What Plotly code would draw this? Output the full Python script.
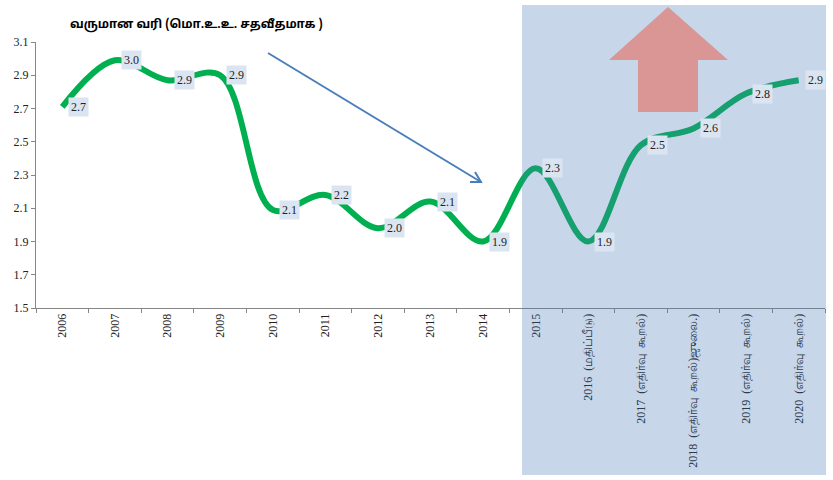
import plotly.graph_objects as go

sp = "\u00a0\u00a0"
years = ["2006", "2007", "2008", "2009", "2010", "2011", "2012", "2013", "2014", "2015",
         f"2016{sp}(மதிப்பீடு)", f"2017{sp}(எதிர்வு{sp}கூறல்)", f"2018{sp}(எதிர்வு{sp}கூறல்)ஜுலை.)",
         f"2019{sp}(எதிர்வு{sp}கூறல்)", f"2020{sp}(எதிர்வு{sp}கூறல்)"]
tax_pct = [2.71, 2.99, 2.87, 2.90, 2.09, 2.18, 1.98, 2.14, 1.90, 2.34, 1.90, 2.48, 2.58, 2.79, 2.87]
label_txt = ["2.7", "3.0", "2.9", "2.9", "2.1", "2.2", "2.0", "2.1", "1.9", "2.3", "1.9", "2.5", "2.6", "2.8", "2.9"]
y_ticks = [1.5, 1.7, 1.9, 2.1, 2.3, 2.5, 2.7, 2.9, 3.1]

W, H = 833, 480
L, R, T, B = 36, 8, 42, 172
pw, ph = W - L - R, H - T - B


def pp(x, y):
    # pixel -> paper coordinates
    return (x - L) / pw, (H - B - y) / ph


def path(points):
    s = ""
    for i, (x, y) in enumerate(points):
        a, b = pp(x, y)
        s += ("M" if i == 0 else "L") + f"{a:.4f},{b:.4f} "
    return s + "Z"


fig = go.Figure()
fig.add_trace(go.Scatter(
    x=years, y=tax_pct, mode="lines",
    line=dict(color="#00b050", width=6, shape="spline", smoothing=1.0),
    hoverinfo="x+y", showlegend=False,
))

serif = "Liberation Serif, Times New Roman, serif"
for i, (y, t) in enumerate(zip(tax_pct, label_txt)):
    fig.add_annotation(x=i, y=y, text=t, showarrow=False, xanchor="left", xshift=6,
                       bgcolor="#dbe5f1", font=dict(family=serif, size=12, color="#222"),
                       borderpad=2)

# shaded forecast region
sx0, sy0 = pp(522, 475)
sx1, sy1 = pp(826, 5)
fig.add_shape(type="rect", xref="paper", yref="paper", x0=sx0, x1=sx1, y0=sy0, y1=sy1,
              fillcolor="rgba(73,118,185,0.30)", line=dict(width=0), layer="above")

# red up arrow
fig.add_shape(type="path", xref="paper", yref="paper",
              path=path([(668, 7), (728, 60), (698, 60), (698, 112), (638, 112), (638, 60), (609, 60)]),
              fillcolor="#d99694", line=dict(width=0), layer="above")

# blue trend arrow
a0, b0 = pp(268, 53)
a1, b1 = pp(481, 182)
fig.add_shape(type="line", xref="paper", yref="paper", x0=a0, y0=b0, x1=a1, y1=b1,
              line=dict(color="#4a7ebb", width=2))
h1x, h1y = pp(470, 182)
h2x, h2y = pp(475, 172)
fig.add_shape(type="path", xref="paper", yref="paper",
              path=f"M{h1x:.4f},{h1y:.4f} L{a1:.4f},{b1:.4f} L{h2x:.4f},{h2y:.4f}",
              line=dict(color="#4a7ebb", width=2))

tx, ty = pp(196, 25)
fig.add_annotation(xref="paper", yref="paper", x=tx, y=ty, xanchor="center", yanchor="middle",
                   text="<b>வருமான வரி (மொ.உ.உ. சதவீதமாக )</b>", showarrow=False,
                   font=dict(family="Noto Sans Tamil, Latha, Noto Sans, sans-serif", size=12, color="#000"))

fig.update_layout(
    width=W, height=H,
    margin=dict(l=L, r=R, t=T, b=B),
    plot_bgcolor="white", paper_bgcolor="white",
    font=dict(family=serif, size=12, color="#222"),
)
fig.update_xaxes(type="category", range=[-0.5, len(years) - 0.5], showline=True,
                 linecolor="#868686", linewidth=1,
                 ticks="outside", tickson="boundaries", ticklen=4, tickcolor="#868686",
                 tickangle=-90, showgrid=False, tickfont=dict(family=serif, size=12))
fig.update_yaxes(range=[1.5, 3.1], tickvals=y_ticks, ticktext=[f"{v:.1f}" for v in y_ticks],
                 showline=True, linecolor="#868686", linewidth=1, ticks="outside", ticklen=4,
                 tickcolor="#868686", showgrid=False, zeroline=False,
                 tickfont=dict(family=serif, size=12))

fig.write_html("out.html", config={"displayModeBar": False},
               post_script="document.body.style.margin='0';")
